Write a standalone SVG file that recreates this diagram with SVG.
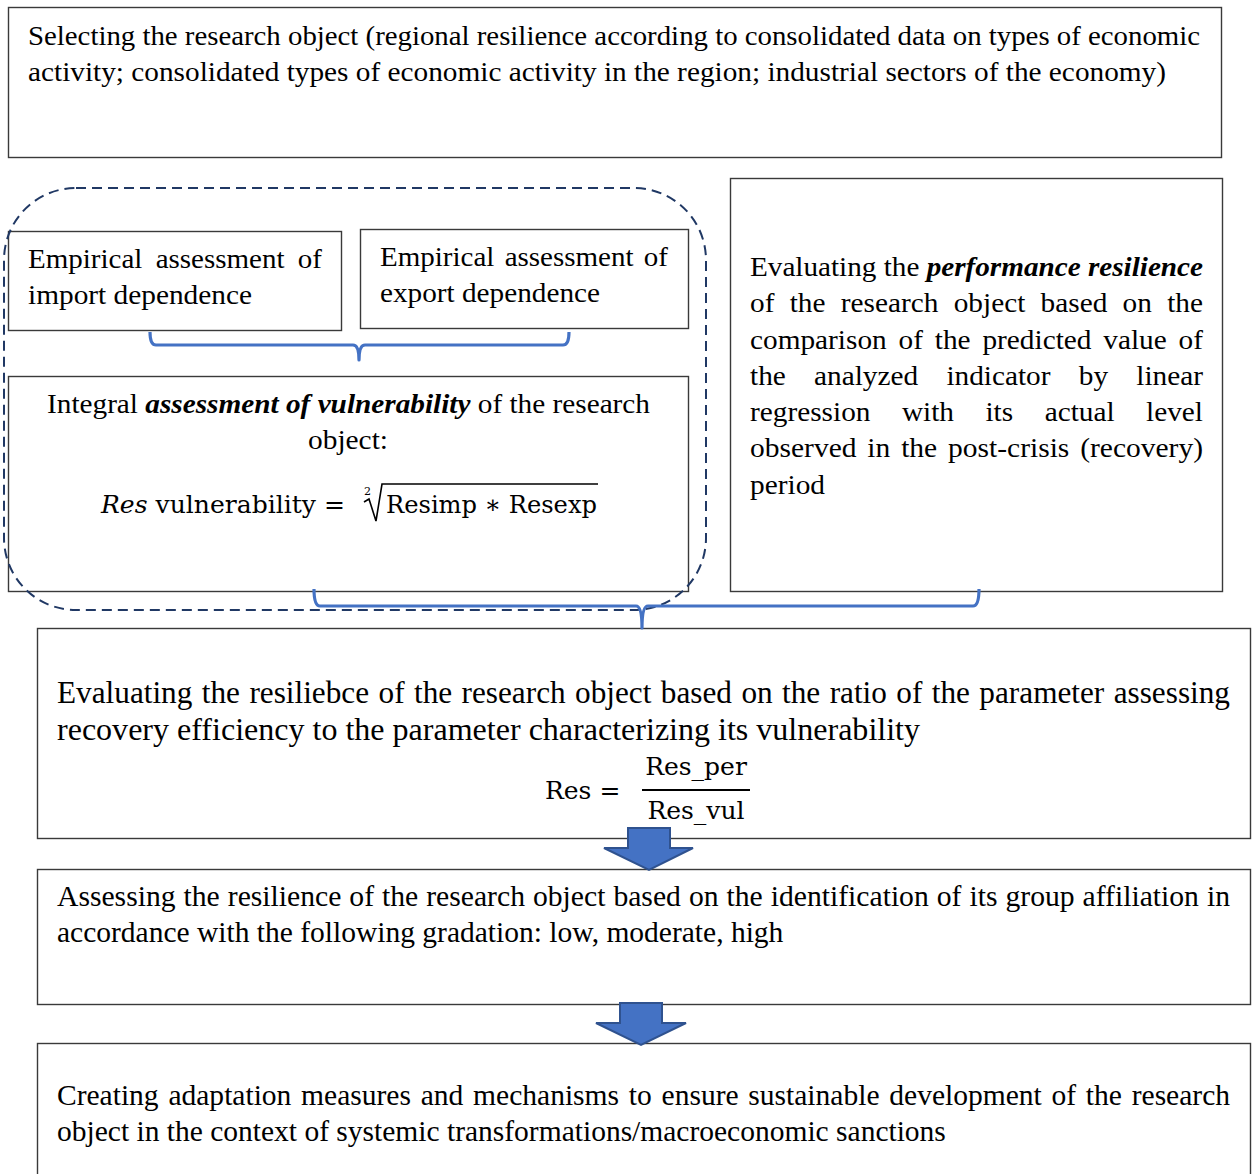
<svg xmlns="http://www.w3.org/2000/svg" width="1253" height="1174" viewBox="0 0 1253 1174">
  <style>
    .box { fill: #ffffff; stroke: #3a3a3a; stroke-width: 1.4; }
    .t { font-family: "Liberation Serif", "Times New Roman", serif; font-size: 27px; fill: #000; }
    .tl { font-family: "Liberation Serif", "Times New Roman", serif; font-size: 29.5px; fill: #000; }
    .tx { font-family: "Liberation Serif", "Times New Roman", serif; font-size: 31px; fill: #000; }
    .m { font-family: "DejaVu Serif", "Liberation Serif", serif; font-size: 25px; fill: #000; }
    .bi { font-weight: bold; font-style: italic; }
    .brace { fill: none; stroke: #4472c4; stroke-width: 3.2; stroke-linejoin: round; }
    .group { fill: none; stroke: #203864; stroke-width: 2; stroke-dasharray: 10 6; }
    .down { fill: #4472c4; stroke: #2f528f; stroke-width: 2; stroke-linejoin: miter; }
  </style>

  <!-- Research object -->
  <g id="node-object">
    <rect class="box" x="8.5" y="7.5" width="1213" height="150"/>
    <text class="t" x="28" y="45" textLength="1172" lengthAdjust="spacingAndGlyphs">Selecting the research object (regional resilience according to consolidated data on types of economic</text>
    <text class="t" x="28" y="81" textLength="1138" lengthAdjust="spacingAndGlyphs">activity; consolidated types of economic activity in the region; industrial sectors of the economy)</text>
  </g>

  <!-- Import dependence -->
  <g id="node-import">
    <rect class="box" x="8.5" y="231.5" width="333" height="99"/>
    <text class="t" x="28" y="268" word-spacing="5.6" textLength="294" lengthAdjust="spacingAndGlyphs">Empirical assessment of</text>
    <text class="t" x="28" y="304" textLength="224" lengthAdjust="spacingAndGlyphs">import dependence</text>
  </g>

  <!-- Export dependence -->
  <g id="node-export">
    <rect class="box" x="360.5" y="229.5" width="328" height="99"/>
    <text class="t" x="380" y="266" word-spacing="2.8" textLength="288" lengthAdjust="spacingAndGlyphs">Empirical assessment of</text>
    <text class="t" x="380" y="302" textLength="220" lengthAdjust="spacingAndGlyphs">export dependence</text>
  </g>

  <!-- Vulnerability -->
  <g id="node-vulnerability">
    <rect class="box" x="8.5" y="376.5" width="680" height="215"/>
    <text class="t" x="47" y="413" textLength="603" lengthAdjust="spacingAndGlyphs">Integral <tspan class="bi">assessment of vulnerability</tspan> of the research</text>
    <text class="t" x="308" y="449" textLength="80" lengthAdjust="spacingAndGlyphs">object:</text>
    <text class="m" x="101" y="513" textLength="244" lengthAdjust="spacingAndGlyphs"><tspan font-style="italic">Res</tspan> vulnerability =</text>
    <text x="364" y="495" font-family="DejaVu Serif, serif" font-size="11">2</text>
    <path d="M364 502 L369 499 L376 521 L382 484 L598 484" fill="none" stroke="#000" stroke-width="1.6"/>
    <text class="m" x="386" y="513" textLength="211" lengthAdjust="spacingAndGlyphs">Resimp ∗ Resexp</text>
  </g>

  <!-- Performance resilience -->
  <g id="node-performance">
    <rect class="box" x="730.5" y="178.5" width="492" height="413"/>
    <text class="t" x="750" y="276" textLength="453" lengthAdjust="spacingAndGlyphs">Evaluating the <tspan class="bi">performance resilience</tspan></text>
    <text class="t" x="750" y="312" word-spacing="7.35" textLength="453" lengthAdjust="spacingAndGlyphs">of the research object based on the</text>
    <text class="t" x="750" y="349" word-spacing="4.16" textLength="453" lengthAdjust="spacingAndGlyphs">comparison of the predicted value of</text>
    <text class="t" x="750" y="385" word-spacing="19.3" textLength="453" lengthAdjust="spacingAndGlyphs">the analyzed indicator by linear</text>
    <text class="t" x="750" y="421" word-spacing="22.25" textLength="453" lengthAdjust="spacingAndGlyphs">regression with its actual level</text>
    <text class="t" x="750" y="457" word-spacing="3.2" textLength="453" lengthAdjust="spacingAndGlyphs">observed in the post-crisis (recovery)</text>
    <text class="t" x="750" y="494" textLength="75" lengthAdjust="spacingAndGlyphs">period</text>
  </g>

  <!-- Dashed grouping outline -->
  <rect class="group" x="4" y="188" width="702" height="422" rx="72" ry="72"/>

  <!-- Resilience ratio -->
  <g id="node-ratio">
    <rect class="box" x="37.5" y="628.5" width="1213" height="210"/>
    <text class="tx" x="57" y="703" word-spacing="1.6" textLength="1173" lengthAdjust="spacingAndGlyphs">Evaluating the resiliebce of the research object based on the ratio of the parameter assessing</text>
    <text class="tx" x="57" y="740" textLength="863" lengthAdjust="spacingAndGlyphs">recovery efficiency to the parameter characterizing its vulnerability</text>
    <text class="m" x="545" y="799" font-size="27">Res =</text>
    <text class="m" x="696" y="775" font-size="27" text-anchor="middle">Res_per</text>
    <line x1="642" y1="790" x2="750" y2="790" stroke="#000" stroke-width="2"/>
    <text class="m" x="696" y="819" font-size="27" text-anchor="middle">Res_vul</text>
  </g>

  <!-- Group affiliation -->
  <g id="node-gradation">
    <rect class="box" x="37.5" y="869.5" width="1213" height="135"/>
    <text class="tl" x="57" y="906" word-spacing="0.6" textLength="1173" lengthAdjust="spacingAndGlyphs">Assessing the resilience of the research object based on the identification of its group affiliation in</text>
    <text class="tl" x="57" y="942">accordance with the following gradation: low, moderate, high</text>
  </g>

  <!-- Adaptation measures -->
  <g id="node-adaptation">
    <rect class="box" x="37.5" y="1043.5" width="1213" height="140"/>
    <text class="tl" x="57" y="1105" word-spacing="2.4" textLength="1173" lengthAdjust="spacingAndGlyphs">Creating adaptation measures and mechanisms to ensure sustainable development of the research</text>
    <text class="tl" x="57" y="1141">object in the context of systemic transformations/macroeconomic sanctions</text>
  </g>

  <!-- Connectors -->
  <g id="connectors">
    <path class="brace" d="M150 332 Q150 345 156 345 L353 345 Q359 345 359 360 Q359 345 365 345 L563 345 Q569 345 569 332"/>
    <path class="brace" d="M314 589 Q314 606 320 606 L636 606 Q642 606 642 628 Q642 606 648 606 L973 606 Q979 606 979 589"/>
    <path class="down" d="M628 828 L670 828 L670 848 L693 848 L649 870 L604 848 L628 848 Z"/>
    <path class="down" d="M620 1003 L662 1003 L662 1023 L686 1023 L641 1045 L596 1023 L620 1023 Z"/>
  </g>
</svg>
